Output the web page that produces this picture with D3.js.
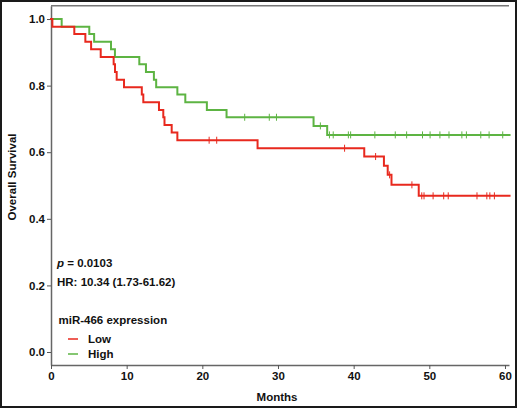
<!DOCTYPE html>
<html>
<head>
<meta charset="utf-8">
<script src="https://cdn.jsdelivr.net/npm/d3@7"></script>
<style>
  html, body { margin: 0; padding: 0; background: #fff; }
  svg { display: block; }
  text { font-family: "Liberation Sans", Arial, sans-serif; font-weight: bold; fill: #111; }
</style>
</head>
<body>
<svg id="chart" width="517" height="408"></svg>
<script>
// ---- Data ----
const groupNames = ["Low", "High"];
const groupColors = ["#e8291e", "#5db443"];

// Low miR-466 expression: event times (months) and survival after each event
const lowTimes    = [0.18, 3.08, 4.54, 5.3, 6.57, 8.28, 8.46, 8.68, 9.65, 12.0, 12.2, 14.27, 14.84, 15.0, 15.95, 16.7, 27.3, 41.4, 44.0, 44.5, 45.0, 48.6];
const lowSurvival = [0.977, 0.955, 0.932, 0.909, 0.886, 0.864, 0.841, 0.818, 0.795, 0.773, 0.750, 0.727, 0.705, 0.682, 0.659, 0.636, 0.612, 0.587, 0.559, 0.532, 0.502, 0.469];
const lowCensored = [20.9, 21.9, 38.8, 42.9, 44.75, 47.7, 49.0, 49.3, 50.5, 51.9, 52.5, 56.3, 57.6, 58.0, 58.6];
const lowEnd = 60.6;

// High miR-466 expression
const highTimes    = [1.41, 5.06, 5.7, 7.93, 8.45, 11.67, 12.55, 13.6, 13.9, 16.7, 17.75, 20.6, 23.2, 34.7, 36.5];
const highSurvival = [0.977, 0.955, 0.932, 0.909, 0.886, 0.864, 0.841, 0.818, 0.795, 0.773, 0.750, 0.727, 0.705, 0.679, 0.652];
const highCensored = [25.6, 28.85, 29.8, 35.6, 36.8, 37.3, 39.3, 39.6, 42.8, 45.5, 47.0, 49.1, 50.1, 51.4, 52.6, 54.3, 54.9, 56.8, 57.9, 59.7];
const highEnd = 60.6;

const xTicks = [0, 10, 20, 30, 40, 50, 60];
const yTicks = [0.0, 0.2, 0.4, 0.6, 0.8, 1.0];

const pValue = "0.0103";
const hrText = "HR: 10.34 (1.73-61.62)";
const legendTitle = "miR-466 expression";

// ---- Drawing ----
const svg = d3.select("#chart");

// outer border
svg.append("rect").attr("x", 1).attr("y", 1).attr("width", 515).attr("height", 406)
  .attr("fill", "none").attr("stroke", "#1a1a1a").attr("stroke-width", 2);

const x = d3.scaleLinear().domain([0, 60.53]).range([51, 509]);
const y = d3.scaleLinear().domain([-0.039, 1.04]).range([365, 5.7]);

// top frame line
svg.append("line").attr("x1", x(0)).attr("x2", x.range()[1])
  .attr("y1", y.range()[1]).attr("y2", y.range()[1])
  .attr("stroke", "#777").attr("stroke-width", 1.5);

const yAxis = svg.append("g").attr("transform", `translate(${x(0)},0)`)
  .call(d3.axisLeft(y).tickValues(yTicks).tickFormat(d3.format(".1f")).tickSize(4).tickSizeOuter(0).tickPadding(2));
const xAxis = svg.append("g").attr("transform", `translate(0,${y.range()[0]})`)
  .call(d3.axisBottom(x).tickValues(xTicks).tickFormat(d3.format("d")).tickSize(4).tickSizeOuter(0).tickPadding(3));

[yAxis, xAxis].forEach(g => {
  g.select(".domain").attr("stroke", "#666").attr("stroke-width", 1.5);
  g.selectAll(".tick line").attr("stroke", "#555").attr("stroke-width", 1);
  g.selectAll(".tick text").attr("font-size", "11.5px").attr("font-weight", "bold")
    .attr("fill", "#111").attr("font-family", "Liberation Sans, Arial, sans-serif");
});

// axis titles
svg.append("text").attr("transform", `translate(16,177) rotate(-90)`)
  .attr("text-anchor", "middle").attr("font-size", "11.5px").text("Overall Survival");
svg.append("text").attr("x", 277).attr("y", 401)
  .attr("text-anchor", "middle").attr("font-size", "11.5px").text("Months");

// KM step curves
function stepPoints(times, surv, end) {
  const pts = [[0, 1]];
  let s = 1;
  times.forEach((t, i) => { pts.push([t, s]); s = surv[i]; pts.push([t, s]); });
  pts.push([end, s]);
  return pts;
}
function survAt(times, surv, t) {
  let s = 1;
  for (let i = 0; i < times.length; i++) { if (times[i] <= t) s = surv[i]; }
  return s;
}

const groups = [
  { name: groupNames[0], color: groupColors[0], times: lowTimes, surv: lowSurvival, cens: lowCensored, end: lowEnd },
  { name: groupNames[1], color: groupColors[1], times: highTimes, surv: highSurvival, cens: highCensored, end: highEnd }
];

const line = d3.line().x(d => x(d[0])).y(d => y(d[1]));

// draw High first then Low on top
[groups[1], groups[0]].forEach(g => {
  svg.append("path").datum(stepPoints(g.times, g.surv, g.end))
    .attr("d", line).attr("fill", "none").attr("stroke", g.color)
    .attr("stroke-width", 2).attr("stroke-linejoin", "miter").attr("stroke-linecap", "square");
  svg.append("g").selectAll("line").data(g.cens).join("line")
    .attr("x1", d => x(d)).attr("x2", d => x(d))
    .attr("y1", d => y(survAt(g.times, g.surv, d)) - 3.5)
    .attr("y2", d => y(survAt(g.times, g.surv, d)) + 3.5)
    .attr("stroke", g.color).attr("stroke-width", 1);
});

// annotations
const pText = svg.append("text").attr("x", 57).attr("y", 267).attr("font-size", "11.5px");
pText.append("tspan").attr("font-style", "italic").text("p");
pText.append("tspan").text(" = " + pValue);
svg.append("text").attr("x", 57).attr("y", 286).attr("font-size", "11.5px").text(hrText);
svg.append("text").attr("x", 58.5).attr("y", 324).attr("font-size", "11.5px").text(legendTitle);

groups.forEach((g, i) => {
  const ly = 339 + i * 15;
  svg.append("line").attr("x1", 68).attr("x2", 78).attr("y1", ly).attr("y2", ly)
    .attr("stroke", g.color).attr("stroke-width", 1.5);
  svg.append("text").attr("x", 88).attr("y", ly + 4.2).attr("font-size", "11.5px").text(g.name);
});
</script>
</body>
</html>
